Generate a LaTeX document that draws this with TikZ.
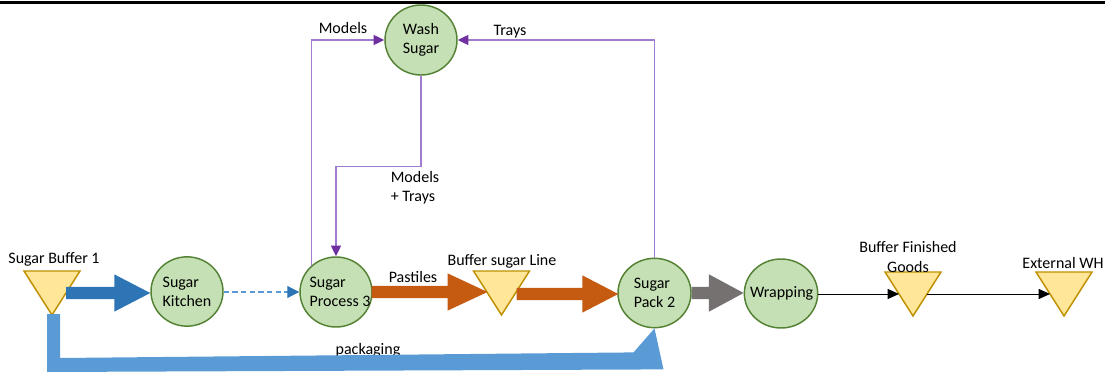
\documentclass[tikz,border=0pt]{standalone}
\usepackage{fontspec}
\setmainfont{Carlito}
\usetikzlibrary{shapes.geometric,arrows.meta,calc}
\definecolor{nodegreen}{HTML}{C5E0B4}
\definecolor{nodeedge}{HTML}{548235}
\definecolor{buffill}{HTML}{FFE699}
\definecolor{bufedge}{HTML}{BF9000}
\definecolor{kblue}{HTML}{2E75B6}
\definecolor{lblue}{HTML}{5B9BD5}
\definecolor{korange}{HTML}{C55A11}
\definecolor{kgray}{HTML}{767171}
\definecolor{kpurple}{HTML}{7030A0}
\definecolor{lpurple}{HTML}{A07CCF}
\newcommand\bufftri[3]{%
  \filldraw[buf] (#2-28,#3) -- (#2+28,#3) -- (#2,#3+44) -- cycle;
  \coordinate (#1) at (#2,#3+22);
  \coordinate (#1-l) at (#2-14,#3+22);
  \coordinate (#1-r) at (#2+14,#3+22);
  \coordinate (#1-b) at (#2,#3+44);}
% block arrow: colour, from, to (horizontal), head length
\newcommand\blkarrow[4]{%
  \fill[#1] let \p1=(#2), \p2=(#3) in
    (\x1,\y1+4.6pt) -- (\x2-#4,\y1+4.6pt) -- (\x2-#4,\y1+14pt) -- (\x2,\y1)
    -- (\x2-#4,\y1-14pt) -- (\x2-#4,\y1-4.6pt) -- (\x1,\y1-4.6pt) -- cycle;}
\begin{document}
\begin{tikzpicture}[x=0.75pt,y=-0.75pt,
  every node/.style={font=\fontsize{12}{14.3}\selectfont, text=black},
  proc/.style={ellipse, draw=nodeedge, fill=nodegreen, line width=1.1pt, inner sep=0pt},
  buf/.style={draw=bufedge, fill=buffill, line width=1.1pt, line join=miter},
  pline/.style={draw=lpurple, line width=0.9pt, -{Triangle[width=7.5pt, length=8pt, color=kpurple, fill=kpurple]}},
  thin/.style={draw=black, line width=0.75pt, -{Triangle[width=7.5pt, length=8.5pt]}},
  lbl/.style={inner sep=0pt}]
\useasboundingbox (0,0) rectangle (1105,374);
\draw[line width=2pt] (0,2.5) -- (1105,2.5);
% process nodes
\node[proc, minimum width=54pt, minimum height=52pt, label={[align=left]center:Sugar\\Kitchen}] (sk) at (187,291.5) {};
\node[proc, minimum width=54pt, minimum height=52.5pt, label={[align=left, xshift=3pt]center:Sugar\\Process 3}] (sp3) at (336,292) {};
\node[proc, minimum width=54.75pt, minimum height=52pt, label={[align=left]center:Sugar\\Pack 2}] (sp2) at (654.5,293) {};
\node[proc, minimum width=55pt, minimum height=51.75pt, label={[xshift=0.5pt]center:Wrapping}] (wrap) at (781,293.5) {};
\node[proc, minimum width=54pt, minimum height=52.5pt, label={[align=left]center:Wash\\Sugar}] (ws) at (421,40) {};
% buffers
\bufftri{sb1}{52}{271}
\bufftri{bsl}{501.5}{271}
\bufftri{bfg}{913}{272}
\bufftri{ewh}{1064}{272}
% labels
\node[lbl] (l-sb1) at (54,259) {Sugar Buffer 1};
\node[lbl] (l-bsl) at (502,261) {Buffer sugar Line};
\node[lbl, align=center] (l-bfg) at (908,257) {Buffer Finished\\Goods};
\node[lbl] (l-ewh) at (1063,263) {External WH};
\node[lbl] (l-past) at (413,277) {Pastiles};
\node[lbl] (l-pack) at (368,350) {packaging};
\node[lbl] (l-mod) at (343,28) {Models};
\node[lbl] (l-tray) at (510,32) {Trays};
\node[lbl, align=left] (l-mt) at (415,188) {Models\\+ Trays};
% thick block arrows
\blkarrow{kblue}{sb1-r}{sb1-r -| sk.west}{27pt}
\blkarrow{korange}{$(sp3.east)+(-1,0)$}{bsl-l}{30pt}
\blkarrow{korange}{$(bsl-r)+(1,1)$}{$(bsl-r -| sp2.west)+(1,1)$}{27pt}
\blkarrow{kgray}{sp2.east}{wrap.west |- sp2.east}{26pt}
% packaging L arrow
\fill[lblue] ($(sb1-b)+(-5,-1)$) -- ($(sb1-b)+(8,-1)$) -- ($(sb1-b)+(8,43)$)
  -- ($(sp2.south)+(-21,24)$) -- (sp2.south) -- ($(sp2.south)+(9,41)$)
  -- ($(sb1-b)+(-5,57)$) -- cycle;
% dashed
\draw[lblue, line width=0.9pt, dashed, dash pattern=on 4pt off 2.5pt, -{Triangle[width=9pt, length=9pt, color=kblue, fill=kblue]}] (sk.east |- 0,292) -- (sp3.west |- 0,292);
% thin black
\draw[thin] (wrap.east |- 0,294) -- (bfg-l |- 0,294);
\draw[thin] (bfg-r |- 0,294) -- (ewh-l |- 0,294);
% purple
\draw[pline] (sp3.133) |- (ws.west);
\draw[pline] (sp2.north) |- (ws.east);
\draw[pline] (ws.south) -- ++(0,91) -| (sp3.north);
\end{tikzpicture}
\end{document}
